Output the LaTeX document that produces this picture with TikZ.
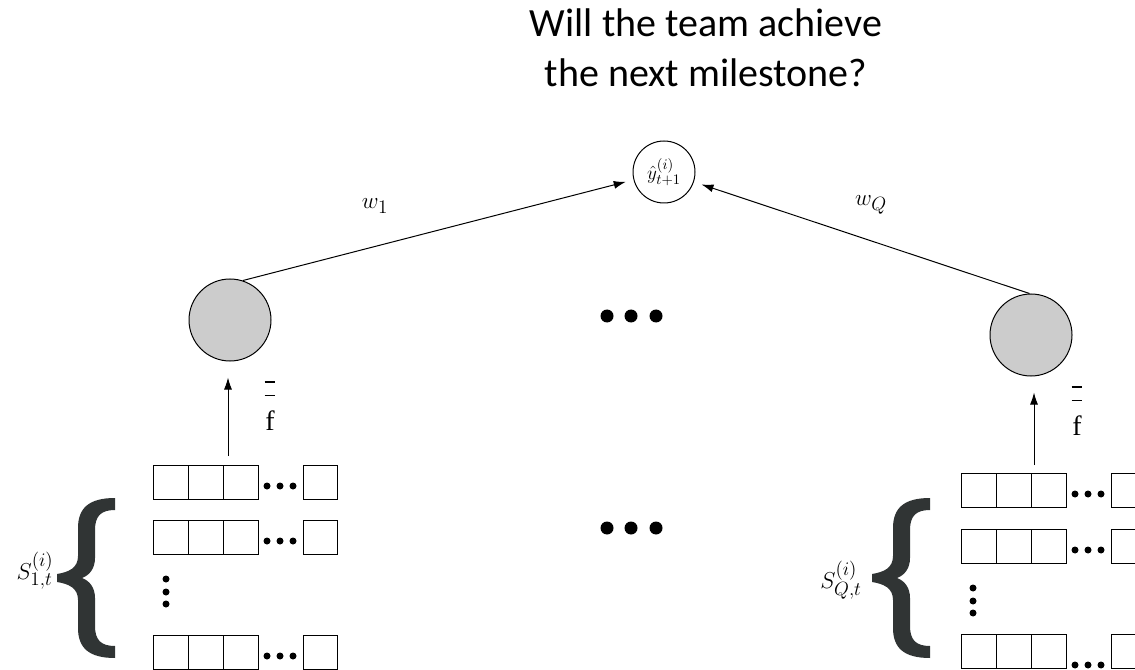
\documentclass[tikz,border=0pt]{standalone}
\usepackage{fontspec}
\usetikzlibrary{arrows.meta}
\newfontfamily\titlefont{Carlito}
\newfontfamily\serifrm{Liberation Serif}

\tikzset{every picture/.style={line width=0.75pt}}
\tikzset{
  outcirc/.style={draw, circle, inner sep=0pt, minimum size=46.5pt, font=\fontsize{15}{17}\selectfont},
  hidcirc/.style={draw, circle, fill={rgb, 255:red, 204; green, 204; blue, 204}, minimum size=61.5pt},
  lbl/.style={inner sep=0.75pt, font=\fontsize{19}{22}\selectfont},
  flbl/.style={inner sep=0.75pt, align=center, font=\serifrm\fontsize{21}{10}\selectfont},
  arr/.style={-{Latex[length=9pt,width=6pt]}},
  bracecol/.style={fill={rgb, 255:red, 48; green, 52; blue, 52}},
  pics/vecrow/.style={code={
    \foreach \k in {0,1,2} \draw (\k*35,0) rectangle ++(35,34);
    \foreach \k in {0,1,2} \fill (114+\k*13,#1) circle (3.5);
    \draw (150,0) rectangle ++(34,34);
  }},
  pics/bigbrace/.style={code={
    \fill[bracecol] (58,-80) .. controls (32,-80) and (21,-70) .. (21,-50) -- (21,-22)
      .. controls (21,-10) and (12,-6) .. (0,-4) -- (0,4)
      .. controls (12,6) and (21,10) .. (21,22) -- (21,50)
      .. controls (21,70) and (32,80) .. (58,80) -- (58,68)
      .. controls (44,68) and (38,62) .. (38,48) -- (38,20)
      .. controls (38,10) and (33,3) .. (25,0)
      .. controls (33,-3) and (38,-10) .. (38,-20) -- (38,-48)
      .. controls (38,-62) and (44,-68) .. (58,-68) -- cycle ;
  }}
}
% upright f under a double bar
\newcommand{\dblbarf}{\rule{8pt}{1.1pt}\\[0pt]\rule{8pt}{1.1pt}\\[10pt]f}

\begin{document}
\begin{tikzpicture}[x=0.75pt,y=0.75pt,yscale=-1,xscale=1]
\path[use as bounding box] (0,0) rectangle (1135,670);

% Question on top
\node[align=center, inner sep=0pt, font=\titlefont\fontsize{30}{37.5}\selectfont] (title) at (706,48) {Will the team achieve\\the next milestone?};

%Shape: Circle (output)
\node[outcirc] (yhat) at (664,172) {$\hat{y}^{(i)}_{t+1}$};
%Shape: Circle (first and last model)
\node[hidcirc] (hidL) at (230,320) {};
\node[hidcirc] (hidR) at (1031,335) {};

%Straight Lines
\draw[arr, shorten >=6pt] (hidL.72) -- (yhat);
\draw[arr, shorten >=6pt] (hidR.92) -- (yhat);

% Text Node
\node[lbl] (w1) at (375,206) {$w_1$};
% Text Node
\node[lbl] (wQ) at (871,205) {$w_Q$};

%Shape: Dots between the models
\foreach \yy in {316,528} \foreach \xx in {607,631,656} \fill (\xx,\yy) circle (6.5);

%Left group of sequences
\pic[yscale=-1] at (153,465) {vecrow=21};
\pic[yscale=-1] at (153,520) {vecrow=21};
\pic[yscale=-1] at (153,635) {vecrow=21};
\foreach \yy in {579,592,604} \fill (166,\yy) circle (3.5);
\pic at (57,578) {bigbrace};
\node[lbl] (s1) at (35,571) {$S^{(i)}_{1,t}$};

%Right group of sequences
\pic[yscale=-1] at (961,473) {vecrow=21};
\pic[yscale=-1] at (961,529) {vecrow=21};
\pic[yscale=-1] at (961,634) {vecrow=31};
\foreach \yy in {588,601,613} \fill (973,\yy) circle (3.5);
\pic at (872,578) {bigbrace};
\node[lbl] (sQ) at (841,580) {$S^{(i)}_{Q,t}$};

%Straight Lines (aggregated features)
\coordinate (inL) at (228,456);
\coordinate (inR) at (1034,465);
\draw[arr, shorten >=12pt] (inL) -- (inL |- hidL.south);
\draw[arr, shorten >=12pt] (inR) -- (inR |- hidR.south);

% Text Node
\node[flbl] (fL) at (270,406) {\dblbarf};
% Text Node
\node[flbl] (fR) at (1077,411) {\dblbarf};

\end{tikzpicture}
\end{document}
